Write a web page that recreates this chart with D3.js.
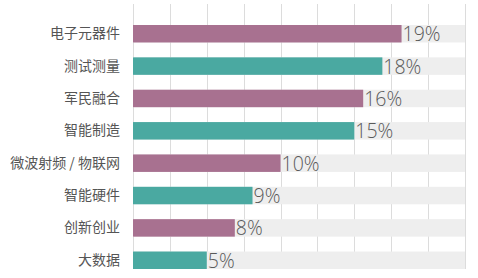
<!DOCTYPE html>
<html>
<head>
<meta charset="utf-8">
<script src="https://cdn.jsdelivr.net/npm/d3@7"></script>
<style>
  body { margin: 0; background: #fff; }
  svg { display: block; }
</style>
</head>
<body>
<div id="chart"></div>
<script>
const categories = ["电子元器件", "测试测量", "军民融合", "智能制造", "微波射频 / 物联网", "智能硬件", "创新创业", "大数据"]
// bar lengths (percent)
const values = [18.2, 16.9, 15.6, 15.0, 10.0, 8.1, 6.9, 5.0]
const valueLabels = ["19%", "18%", "16%", "15%", "10%", "9%", "8%", "5%"]
const colors = ["#a87190", "#4aa9a1"]
const gridTicks = [0, 2.5, 5, 7.5, 10, 12.5, 15, 17.5, 20, 22.5]

const W = 478, H = 278
const margin = {top: 25, right: 13, bottom: 9, left: 133}
const width = W - margin.left - margin.right
const height = H - margin.top - margin.bottom

const svg = d3.select("#chart").append("svg")
  .attr("width", W)
  .attr("height", H)

const g = svg.append("g")
  .attr("transform", "translate(" + margin.left + "," + margin.top + ")")

const x = d3.scaleLinear().domain([0, 22.5]).range([0, width])
const y = d3.scaleBand().domain(categories).range([0, height]).paddingInner(0.46).paddingOuter(0)

// grid
g.selectAll(".grid").data(gridTicks).enter().append("line")
  .attr("class", "grid")
  .attr("x1", d => Math.round(x(d)) + 0.5)
  .attr("x2", d => Math.round(x(d)) + 0.5)
  .attr("y1", -21)
  .attr("y2", height)
  .attr("stroke", "#dcdcdc")
  .attr("stroke-width", 1)

// background bars
g.selectAll(".bg").data(categories).enter().append("rect")
  .attr("class", "bg")
  .attr("x", 0)
  .attr("y", d => y(d))
  .attr("width", x(22.5))
  .attr("height", y.bandwidth())
  .attr("fill", "#eeeeee")

// bars
g.selectAll(".bar").data(values).enter().append("rect")
  .attr("class", "bar")
  .attr("x", 0)
  .attr("y", (d, i) => y(categories[i]))
  .attr("width", d => x(d))
  .attr("height", y.bandwidth())
  .attr("fill", (d, i) => colors[i % 2])

// value labels
g.selectAll(".val").data(values).enter().append("text")
  .attr("class", "val")
  .attr("x", d => x(d) + 1)
  .attr("y", (d, i) => y(categories[i]) + y.bandwidth() / 2)
  .attr("dy", "0.38em")
  .attr("font-family", "'Open Sans', 'Noto Sans', sans-serif")
  .attr("font-weight", 300)
  .attr("font-size", 19.5)
  .attr("fill", "#5a5a5a")
  .text((d, i) => valueLabels[i])

// category labels
const yAxis = g.append("g").call(d3.axisLeft(y).tickSize(0).tickPadding(13))
yAxis.select(".domain").remove()
yAxis.selectAll("text")
  .attr("font-family", "'Noto Sans CJK SC', sans-serif")
  .attr("font-size", 14)
  .attr("fill", "#555")
</script>
</body>
</html>
